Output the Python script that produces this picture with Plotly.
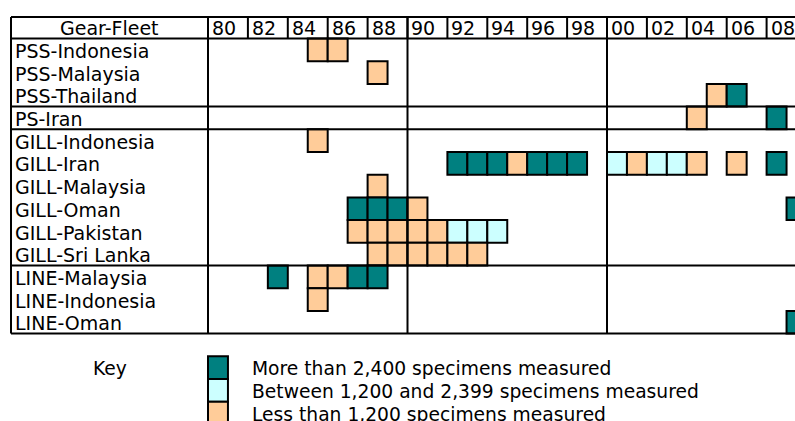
import plotly.graph_objects as go

# ---------------- data ----------------
row_labels = ["PSS-Indonesia", "PSS-Malaysia", "PSS-Thailand", "PS-Iran",
              "GILL-Indonesia", "GILL-Iran", "GILL-Malaysia", "GILL-Oman",
              "GILL-Pakistan", "GILL-Sri Lanka", "LINE-Malaysia",
              "LINE-Indonesia", "LINE-Oman"]
header_years = list(range(1980, 2010, 2))
header_labels = ["80", "82", "84", "86", "88", "90", "92", "94", "96", "98",
                 "00", "02", "04", "06", "08"]
group_breaks_after = [3, 4, 10]          # horizontal separators after these row counts
decade_lines = [1990, 2000]

# sample cells: fleet, year, level (H = >2400, M = 1200-2399, L = <1200)
cell_fleet = (["PSS-Indonesia"] * 2 + ["PSS-Malaysia"] + ["PSS-Thailand"] * 2 +
              ["PS-Iran"] * 2 + ["GILL-Indonesia"] + ["GILL-Iran"] * 14 +
              ["GILL-Malaysia"] + ["GILL-Oman"] * 5 + ["GILL-Pakistan"] * 8 +
              ["GILL-Sri Lanka"] * 6 + ["LINE-Malaysia"] * 5 +
              ["LINE-Indonesia"] + ["LINE-Oman"])
cell_year = ([1985, 1986] + [1988] + [2005, 2006] +
             [2004, 2008] + [1985] +
             [1992, 1993, 1994, 1995, 1996, 1997, 1998, 2000, 2001, 2002, 2003, 2004, 2006, 2008] +
             [1988] + [1987, 1988, 1989, 1990, 2009] +
             [1987, 1988, 1989, 1990, 1991, 1992, 1993, 1994] +
             [1988, 1989, 1990, 1991, 1992, 1993] +
             [1983, 1985, 1986, 1987, 1988] + [1985] + [2009])
cell_level = (["L", "L"] + ["L"] + ["L", "H"] +
              ["L", "H"] + ["L"] +
              ["H", "H", "H", "L", "H", "H", "H", "M", "L", "M", "M", "L", "L", "H"] +
              ["L"] + ["H", "H", "H", "L", "H"] +
              ["L", "L", "L", "L", "L", "M", "M", "M"] +
              ["L", "L", "L", "L", "L", "L"] +
              ["H", "L", "L", "H", "H"] + ["L"] + ["H"])

key_levels = ["H", "M", "L"]
key_texts = ["More than 2,400 specimens measured",
             "Between 1,200 and 2,399 specimens measured",
             "Less than 1,200 specimens measured"]

# ---------------- styling / layout constants ----------------
W, H = 795, 421
colors = {"H": "#008080", "M": "#CCFFFF", "L": "#FFCC99"}
FONT = "DejaVu Sans"
FS = 19
FS_KEY = 18.7
PX_YEAR = 19.95          # pixels per year
X0_PX = 208              # pixel position of 1980
ROW_PX = 22.7
Y0_PX = 38.5             # pixel position of first row top

x_range = [1980 - X0_PX / PX_YEAR, 1980 + (W - X0_PX) / PX_YEAR]
y_range = [(H - Y0_PX) / ROW_PX, -Y0_PX / ROW_PX]

table_left = 1980 - (X0_PX - 11) / PX_YEAR
table_right = x_range[1] + 1
header_top = -(Y0_PX - 17) / ROW_PX
n_rows = len(row_labels)

fig = go.Figure()
# invisible trace to establish axes
fig.add_trace(go.Scatter(x=[x_range[0]], y=[0], mode="markers",
                         marker=dict(opacity=0), hoverinfo="skip", showlegend=False))

shapes = []
LW = 2
# cells
for f, yr, lv in zip(cell_fleet, cell_year, cell_level):
    r = row_labels.index(f)
    shapes.append(dict(type="rect", xref="x", yref="y", x0=yr, x1=yr + 1, y0=r, y1=r + 1,
                       fillcolor=colors[lv], line=dict(color="black", width=LW), layer="above"))

line = dict(color="black", width=LW)
# outer / horizontal lines
for yy in [header_top, 0] + group_breaks_after + [n_rows]:
    shapes.append(dict(type="line", xref="x", yref="y", x0=table_left, x1=table_right,
                       y0=yy, y1=yy, line=line, layer="above"))
# left border and label column boundary
for xx in [table_left, 1980]:
    shapes.append(dict(type="line", xref="x", yref="y", x0=xx, x1=xx,
                       y0=header_top, y1=n_rows, line=line, layer="above"))
# decade lines in body and header
for xx in decade_lines:
    shapes.append(dict(type="line", xref="x", yref="y", x0=xx, x1=xx,
                       y0=header_top, y1=n_rows, line=line, layer="above"))
# header separators
for xx in header_years[1:]:
    shapes.append(dict(type="line", xref="x", yref="y", x0=xx, x1=xx,
                       y0=header_top, y1=0, line=line, layer="above"))

annotations = []
tfont = dict(family=FONT, size=FS, color="black")
kfont = dict(family=FONT, size=FS_KEY, color="black")
annotations.append(dict(x=(table_left + 1980) / 2, y=header_top / 2, xref="x", yref="y",
                        text="Gear-Fleet", showarrow=False, font=tfont,
                        xanchor="center", yanchor="middle"))
for yr, lab in zip(header_years, header_labels):
    annotations.append(dict(x=yr + 0.1, y=header_top / 2, xref="x", yref="y", text=lab,
                            showarrow=False, font=tfont, xanchor="left", yanchor="middle"))
for i, lab in enumerate(row_labels):
    annotations.append(dict(x=table_left + 0.1, y=i + 0.55, xref="x", yref="y", text=lab,
                            showarrow=False, font=tfont, xanchor="left", yanchor="middle"))

# key
key_top = n_rows + 1
annotations.append(dict(x=1975.07, y=key_top + 0.55, xref="x", yref="y", text="Key",
                        showarrow=False, font=kfont, xanchor="center", yanchor="middle"))
for k, (lv, txt) in enumerate(zip(key_levels, key_texts)):
    shapes.append(dict(type="rect", xref="x", yref="y", x0=1980, x1=1981,
                       y0=key_top + k, y1=key_top + k + 1,
                       fillcolor=colors[lv], line=dict(color="black", width=LW), layer="above"))
    annotations.append(dict(x=1982.1, y=key_top + k + 0.55, xref="x", yref="y", text=txt,
                            showarrow=False, font=kfont, xanchor="left", yanchor="middle"))

fig.update_layout(
    width=W, height=H, margin=dict(l=0, r=0, t=0, b=0),
    paper_bgcolor="white", plot_bgcolor="white",
    xaxis=dict(range=x_range, visible=False, fixedrange=True),
    yaxis=dict(range=y_range, visible=False, fixedrange=True),
    shapes=shapes, annotations=annotations, showlegend=False,
)
fig.write_html("out.html", config={"displayModeBar": False},
               post_script="document.body.style.margin='0px';document.body.style.overflow='hidden';")
